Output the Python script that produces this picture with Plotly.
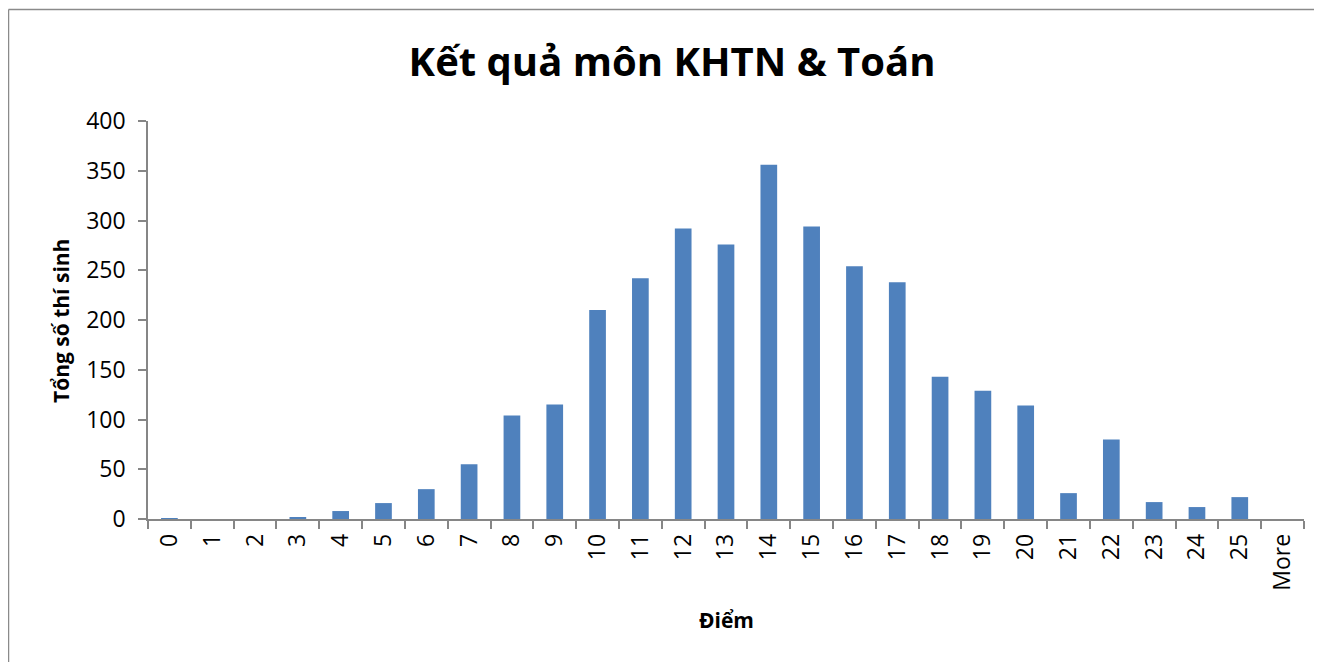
import plotly.graph_objects as go

categories = [str(i) for i in range(26)] + ["More"]
counts = [1, 0, 0, 2, 8, 16, 30, 55, 104, 115, 210, 242, 292, 276, 356, 294,
          254, 238, 143, 129, 114, 26, 80, 17, 12, 22, 0]
y_ticks = [0, 50, 100, 150, 200, 250, 300, 350, 400]

title_text = "Kết quả môn KHTN &amp; Toán"
x_title = "Điểm"
y_title = "Tổng số thí sinh"

# page has an 8px body margin, so figure coords = page coords - 8
OFF = 8
W, H = 1322 - OFF, 662 - OFF
L = 148 - OFF
T = 121 - OFF
R = W - (1304 - OFF)
B = H - (519 - OFF)
pw = W - L - R
ph = H - T - B

def px_x(page_x):
    return (page_x - OFF - L) / pw

def px_y(page_y):
    return (H - B - (page_y - OFF)) / ph

FONT = "Open Sans"
axis_col = "#868686"

fig = go.Figure(go.Bar(
    x=categories, y=counts,
    marker=dict(color="#4F81BD", line=dict(width=0)),
))

fig.update_layout(
    width=W, height=H,
    margin=dict(l=L, r=R, t=T, b=B, pad=0),
    paper_bgcolor="white", plot_bgcolor="white",
    bargap=0.61,
    showlegend=False,
    font=dict(family=FONT, color="black"),
    title=dict(text="<b>" + title_text + "</b>", x=px_x(672), xref="paper", xanchor="center",
               y=1 - (62 - OFF) / H, yref="container", yanchor="middle",
               font=dict(family=FONT, size=40, color="black")),
    xaxis=dict(
        type="category", showline=True, linecolor=axis_col, linewidth=1.5,
        ticks="outside", tickson="boundaries", ticklen=8, tickcolor=axis_col, tickwidth=1.5,
        tickangle=-90, tickfont=dict(family=FONT, size=23, color="black"),
        ticklabelstandoff=4,
        showgrid=False, zeroline=False,
    ),
    yaxis=dict(
        range=[0, 400], tickvals=y_ticks, showline=True, linecolor=axis_col, linewidth=1.5,
        ticks="outside", ticklen=8, tickcolor=axis_col, tickwidth=1.5,
        tickfont=dict(family=FONT, size=23, color="black"),
        ticklabelstandoff=8,
        showgrid=False, zeroline=False,
    ),
    annotations=[
        dict(text="<b>" + x_title + "</b>", xref="paper", yref="paper",
             x=px_x(726), y=px_y(620), xanchor="center", yanchor="middle",
             showarrow=False, font=dict(family=FONT, size=21, color="black")),
        dict(text="<b>" + y_title + "</b>", xref="paper", yref="paper",
             x=px_x(61), y=px_y(321), xanchor="center", yanchor="middle", textangle=-90,
             showarrow=False, font=dict(family=FONT, size=21, color="black")),
    ],
    shapes=[
        dict(type="line", xref="paper", yref="paper",
             x0=px_x(8.5), x1=px_x(1340),
             y0=px_y(9.5), y1=px_y(9.5),
             line=dict(color="#8a8a8a", width=1.5)),
        dict(type="line", xref="paper", yref="paper",
             x0=px_x(8.5), x1=px_x(8.5),
             y0=px_y(9.5), y1=px_y(680),
             line=dict(color="#8a8a8a", width=1.5)),
    ],
)

fig.write_html("out.html")
